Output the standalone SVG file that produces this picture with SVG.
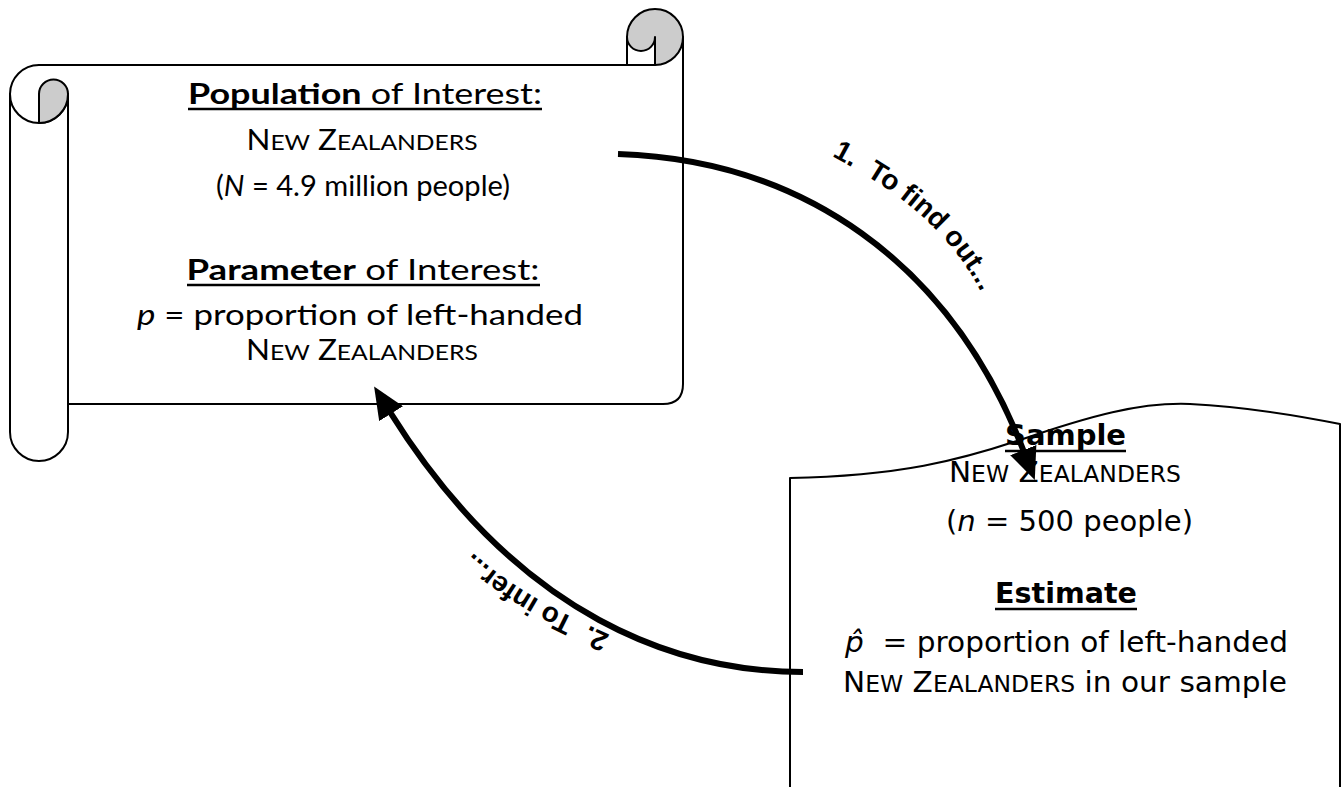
<svg xmlns="http://www.w3.org/2000/svg" width="1343" height="787" viewBox="0 0 1343 787">
<defs>
<marker id="ah" markerUnits="userSpaceOnUse" markerWidth="34" markerHeight="28" refX="2" refY="14" orient="auto"><path d="M0,0 L32,14 L0,28 Z" fill="#000"/></marker>
<path id="tp1" d="M 832,156 C 882,183 948,222 985,300"/>
<path id="tp2" d="M 610,635 C 560,612 500,585 448,528"/>
</defs>
<style>
.ln{fill:none;stroke:#000;stroke-width:2;stroke-linejoin:round;stroke-linecap:round}
.gray{fill:#cccccc;stroke:#000;stroke-width:2;stroke-linejoin:round}
.L{font-family:Lato,"Open Sans",sans-serif;font-size:28px;fill:#000}
.R{font-family:"DejaVu Sans",Verdana,sans-serif;font-size:29px;fill:#000}
.b{font-weight:bold}
.i{font-style:italic}
.scL{font-size:22px}
.scR{font-size:23px}
.arrow{fill:none;stroke:#000;stroke-width:6}
.lbl{font-family:"Liberation Sans",Arial,sans-serif;font-weight:bold;font-size:28px;fill:#000}
.ul{stroke:#000;stroke-width:2.5}
</style>
<rect width="1343" height="787" fill="#fff"/>

<g id="population-scroll">
  <path class="ln" d="M39,65 L655,65"/>
  <path class="ln" d="M683,37 L683,384 Q683,404 663,404 L68,404"/>
  <path class="gray" d="M627,37 A28,28 0 1 1 655,65 L655,37 A14,14 0 0 1 627,37 Z"/>
  <path class="ln" d="M627,37 L627,65"/>
  <path class="ln" d="M10,94 L10,432 A29,29 0 0 0 68,432 L68,94"/>
  <path class="ln" d="M39,65 A29,29 0 1 0 68,94"/>
  <path class="gray" d="M39,123 L39,94 A14.5,14.5 0 0 1 68,94 A29,29 0 0 1 39,123 Z"/>
  <text class="L" x="365" y="104" text-anchor="middle" textLength="354" lengthAdjust="spacingAndGlyphs"><tspan class="b">Population</tspan> of Interest:</text>
  <line class="ul" x1="188" y1="109" x2="542" y2="109"/>
  <text class="L" x="362" y="150" text-anchor="middle" textLength="231" lengthAdjust="spacingAndGlyphs">N<tspan class="scL">EW</tspan> Z<tspan class="scL">EALANDERS</tspan></text>
  <text class="L" x="363" y="196" text-anchor="middle" textLength="294" lengthAdjust="spacingAndGlyphs">(<tspan class="i">N</tspan> = 4.9 million people)</text>
  <text class="L" x="363" y="280" text-anchor="middle" textLength="353" lengthAdjust="spacingAndGlyphs"><tspan class="b">Parameter</tspan> of Interest:</text>
  <line class="ul" x1="187" y1="285" x2="540" y2="285"/>
  <text class="L" x="360" y="325" text-anchor="middle" textLength="446" lengthAdjust="spacingAndGlyphs"><tspan class="i">p</tspan> = proportion of left-handed</text>
  <text class="L" x="362" y="360" text-anchor="middle" textLength="232" lengthAdjust="spacingAndGlyphs">N<tspan class="scL">EW</tspan> Z<tspan class="scL">EALANDERS</tspan></text>
</g>

<g id="sample-box">
  <path d="M790,790 L790,478 C900,476 960,460 1020,440 C1090,416 1140,402 1190,404 C1250,407 1300,416 1340,424 L1340,790" fill="#fff" stroke="#000" stroke-width="2" stroke-linejoin="round"/>
  <text class="R b" x="1065.5" y="445" text-anchor="middle" textLength="121" lengthAdjust="spacingAndGlyphs">Sample</text>
  <line class="ul" x1="1005" y1="451" x2="1126" y2="451"/>
  <text class="R" x="1065" y="482" text-anchor="middle" textLength="232" lengthAdjust="spacingAndGlyphs">N<tspan class="scR">EW</tspan> Z<tspan class="scR">EALANDERS</tspan></text>
  <text class="R" x="1069.5" y="531" text-anchor="middle" textLength="247" lengthAdjust="spacingAndGlyphs">(<tspan class="i">n</tspan> = 500 people)</text>
  <text class="R b" x="1066" y="603" text-anchor="middle" textLength="142" lengthAdjust="spacingAndGlyphs">Estimate</text>
  <line class="ul" x1="995" y1="609" x2="1137" y2="609"/>
  <text class="R" x="1066.5" y="652" text-anchor="middle" textLength="443" lengthAdjust="spacingAndGlyphs"><tspan class="i">p&#770;</tspan>&#160; = proportion of left-handed</text>
  <text class="R" x="1065" y="692" text-anchor="middle" textLength="444" lengthAdjust="spacingAndGlyphs">N<tspan class="scR">EW</tspan> Z<tspan class="scR">EALANDERS</tspan> in our sample</text>
</g>

<g id="connectors">
  <path class="arrow" d="M618,154 C800,160 950,260 1024,452" marker-end="url(#ah)"/>
  <path class="arrow" d="M803,672 C680,672 520,620 390,412" marker-end="url(#ah)"/>
  <text class="lbl"><textPath href="#tp1">1.&#160; To find out...</textPath></text>
  <text class="lbl"><textPath href="#tp2">2.&#160; To infer...</textPath></text>
</g>
</svg>
